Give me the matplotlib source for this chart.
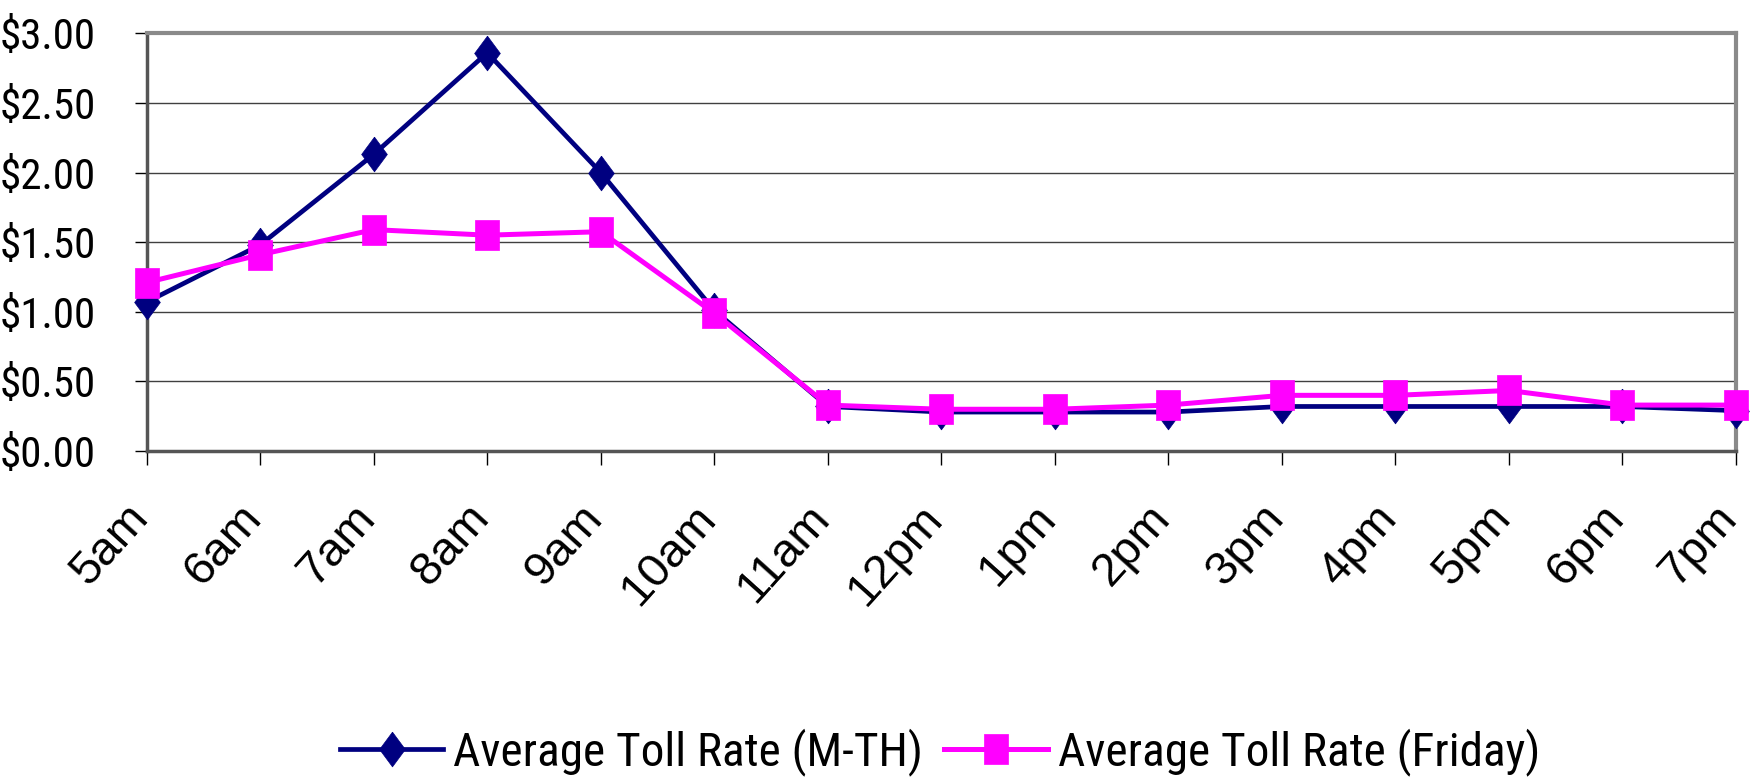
import matplotlib
matplotlib.use('Agg')
import matplotlib.pyplot as plt
from matplotlib.ticker import FuncFormatter, MultipleLocator
from matplotlib.transforms import ScaledTranslation

# data
hours = ['5am', '6am', '7am', '8am', '9am', '10am', '11am', '12pm',
         '1pm', '2pm', '3pm', '4pm', '5pm', '6pm', '7pm']
toll_mth = [1.07, 1.48, 2.13, 2.86, 2.00, 1.01, 0.32, 0.28,
            0.28, 0.28, 0.32, 0.32, 0.32, 0.32, 0.29]
toll_fri = [1.21, 1.41, 1.59, 1.55, 1.575, 0.99, 0.33, 0.30,
            0.30, 0.33, 0.40, 0.40, 0.435, 0.33, 0.33]

NAVY = '#000080'
PINK = '#ff00ff'
narrow = ['Roboto Condensed', 'Fira Sans Condensed', 'Liberation Sans']
regular = ['Liberation Sans', 'DejaVu Sans']

# the reference markers are a bit taller than wide
diamond = [(0, 1), (0.74, 0), (0, -1), (-0.74, 0), (0, 1)]
box = [(-0.79, -1), (0.79, -1), (0.79, 1), (-0.79, 1), (-0.79, -1)]

fig = plt.figure(figsize=(17.5, 7.79), dpi=100)
fig.patch.set_facecolor('white')
ax = fig.add_axes([0.0838, 0.421, 0.992 - 0.0838, 0.9573 - 0.421])

x = list(range(len(hours)))
ax.plot(x, toll_mth, color=NAVY, lw=3.4, marker=diamond, markersize=25,
        markerfacecolor=NAVY, markeredgecolor=NAVY, markeredgewidth=0.5,
        clip_on=False, zorder=3, label='Average Toll Rate (M-TH)')
ax.plot(x, toll_fri, color=PINK, lw=3.6, marker=box, markersize=21,
        markerfacecolor=PINK, markeredgecolor=PINK, markeredgewidth=0.5,
        clip_on=False, zorder=4, label='Average Toll Rate (Friday)')

ax.set_xlim(0, len(hours) - 1)
ax.set_ylim(0, 3)
ax.yaxis.set_major_locator(MultipleLocator(0.5))
ax.yaxis.set_major_formatter(FuncFormatter(lambda v, p: '${:.2f}'.format(v)))
ax.set_xticks(x)
ax.set_xticklabels(hours)

for v in [0.5, 1.0, 1.5, 2.0, 2.5]:
    ax.axhline(v, color='#404040', lw=1.0, zorder=1)

for s in ['top', 'right']:
    ax.spines[s].set_color('#8a8a8a')
    ax.spines[s].set_linewidth(3.0)
for s in ['left', 'bottom']:
    ax.spines[s].set_color('#555555')
    ax.spines[s].set_linewidth(2.5)

ax.tick_params(axis='y', direction='out', length=8.6, width=1.0,
               color='black', pad=28)
ax.tick_params(axis='x', direction='out', length=10, width=1.0,
               color='black', pad=39)

for lab in ax.get_yticklabels():
    lab.set_fontfamily(narrow)
    lab.set_fontsize(31)

shift = ScaledTranslation(0.03, 0, fig.dpi_scale_trans)
for lab in ax.get_xticklabels():
    lab.set_fontfamily(regular)
    lab.set_fontsize(34)
    lab.set_rotation(48)
    lab.set_rotation_mode('anchor')
    lab.set_ha('right')
    lab.set_va('baseline')
    lab.set_transform(lab.get_transform() + shift)

leg = fig.legend(loc='center', bbox_to_anchor=(0.537, 0.035), ncol=2,
                 frameon=False, handlelength=2.2, handletextpad=0.2,
                 columnspacing=0.45, borderaxespad=0,
                 prop={'family': narrow, 'size': 34})

fig.savefig('out.png', dpi=100)
